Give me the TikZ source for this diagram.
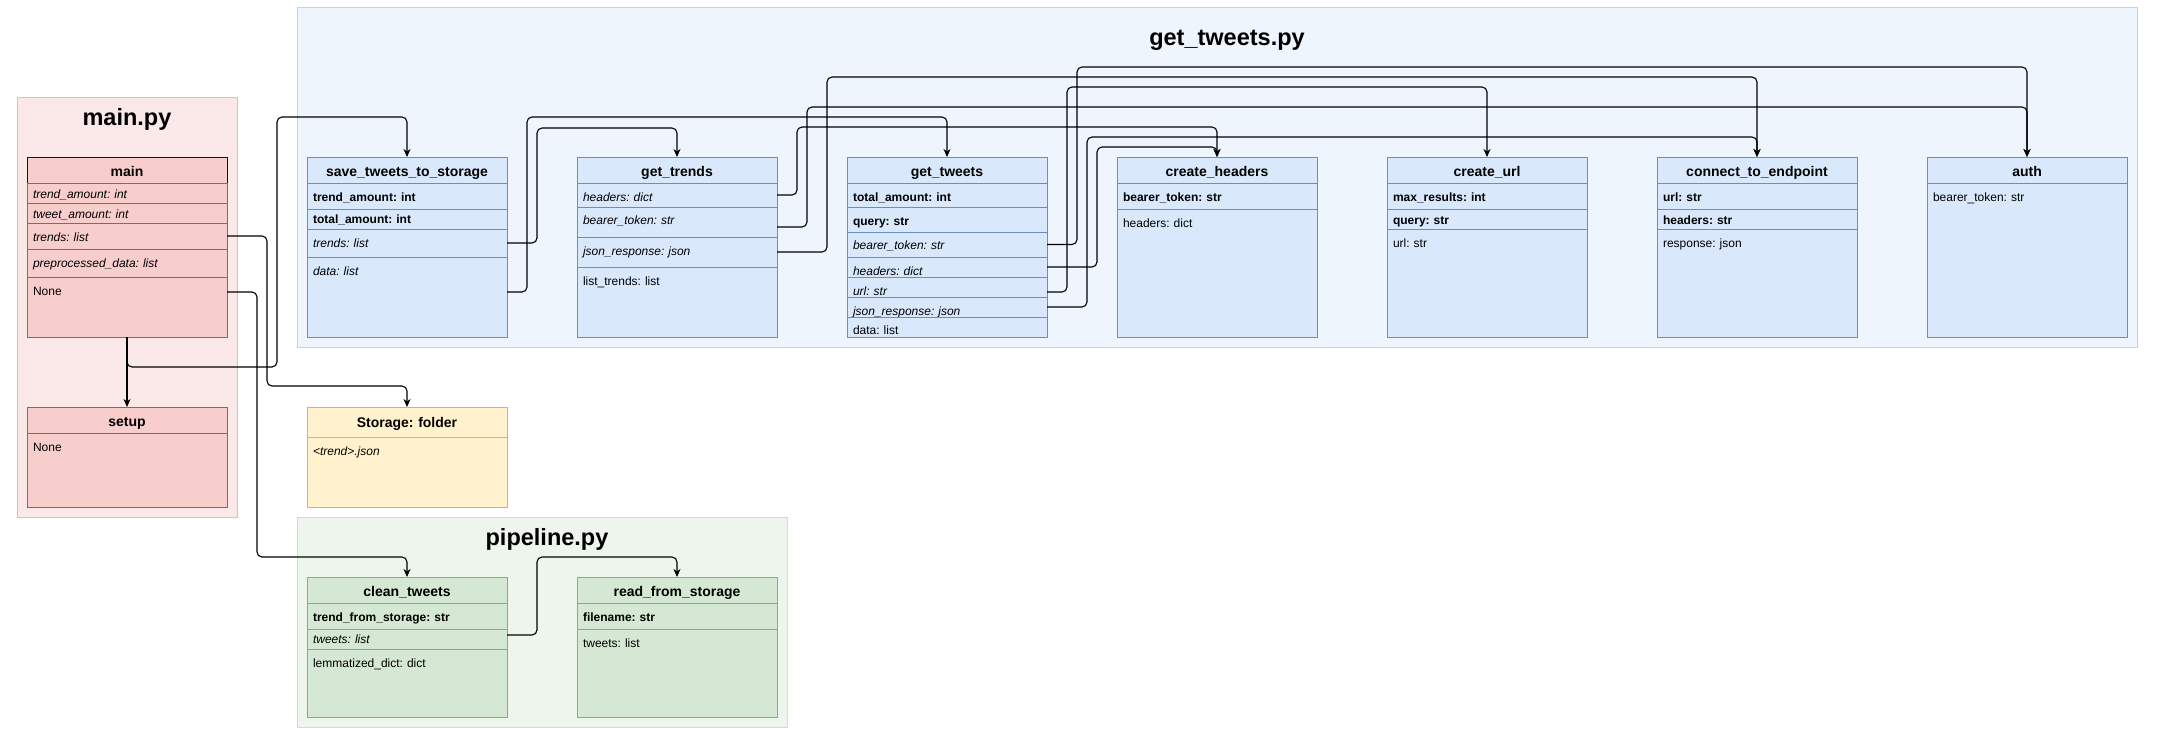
\documentclass[tikz,border=0pt]{standalone}
\usepackage{fontspec}
\setmainfont{Liberation Sans}
\usetikzlibrary{arrows.meta}
\frenchspacing

\definecolor{redfill}{HTML}{F8CECC}
\definecolor{redline}{HTML}{B85450}
\definecolor{bluefill}{HTML}{DAE8FC}
\definecolor{blueline}{HTML}{6C8EBF}
\definecolor{greenfill}{HTML}{D5E8D4}
\definecolor{greenline}{HTML}{82B366}
\definecolor{yelfill}{HTML}{FFF2CC}
\definecolor{yelline}{HTML}{D6B656}
\definecolor{redcfill}{HTML}{FBE9E9}
\definecolor{redcline}{HTML}{E3BBB9}
\definecolor{bluecfill}{HTML}{EFF5FD}
\definecolor{bluecline}{HTML}{C4D2E5}
\definecolor{greencfill}{HTML}{EEF5EC}
\definecolor{greencline}{HTML}{CDE1C2}
\definecolor{darkhdr}{HTML}{330808}

\newcommand{\urow}[7]{\node[urow,#6,text height=#4pt,text depth=#5pt] (#1) at (#2,#3) {#7};}
\newcommand{\uhdr}[7]{\node[uhdr,#6,text height=#4pt,text depth=#5pt] (#1) at (#2,#3) {#7};}

\tikzset{
  urow/.style={draw, rectangle, anchor=north west, text width=188pt, inner xsep=6pt,
    inner ysep=0pt, outer sep=0pt, align=left, line width=1pt,
    font=\frenchspacing\fontsize{12}{14}\selectfont},
  uhdr/.style={urow, align=center, font=\frenchspacing\bfseries\fontsize{14}{16}\selectfont},
  redbox/.style={fill=redfill, draw=redline},
  bluebox/.style={fill=bluefill, draw=blueline},
  greenbox/.style={fill=greenfill, draw=greenline},
  yelbox/.style={fill=yelfill, draw=yelline},
  cont/.style={line width=1pt},
  ctitle/.style={font=\bfseries\fontsize{23.5}{28}\selectfont, inner sep=0pt},
  conn/.style={draw=black, line width=1.1pt, rounded corners=5pt,
    -{Stealth[length=8pt,width=7pt,inset=2.5pt]}}
}

\begin{document}
\begin{tikzpicture}[x=1pt,y=-1pt]
\useasboundingbox (0,0) rectangle (2162,732);

% containers
\draw[cont, fill=redcfill, draw=redcline] (17,97) rectangle (237,517);
\draw[cont, fill=bluecfill, draw=bluecline] (297,7) rectangle (2137,347);
\draw[cont, fill=greencfill, draw=greencline] (297,517) rectangle (787,727);
\node[ctitle] (tmain) at (127,119) {main.py};
\node[ctitle] (tget) at (1227,40) {get\_tweets.py};
\node[ctitle] (tpipe) at (547,539) {pipeline.py};

% main
\uhdr{mainh}{27}{157}{19.5}{6.5}{fill=redfill, draw=darkhdr}{main}
\urow{main1}{27}{183}{15.3}{4.7}{redbox}{\itshape trend\_amount: int}
\urow{main2}{27}{203}{15.3}{4.7}{redbox}{\itshape tweet\_amount: int}
\urow{main3}{27}{223}{18.3}{7.7}{redbox}{\itshape trends: list}
\urow{main4}{27}{249}{18.3}{9.7}{redbox}{\itshape preprocessed\_data: list}
\urow{main5}{27}{277}{18.3}{41.7}{redbox}{None}
\draw[darkhdr, line width=1pt] (27,183) -- (27,157) -- (227,157) -- (227,183);

% setup
\uhdr{setuph}{27}{407}{19.5}{6.5}{redbox}{setup}
\urow{setup1}{27}{433}{18.3}{55.7}{redbox}{None}

% storage
\uhdr{storh}{307}{407}{20}{10}{yelbox}{Storage: folder}
\urow{stor1}{307}{437}{18.3}{51.7}{yelbox}{\itshape <trend>.json}

% save_tweets_to_storage
\uhdr{sth}{307}{157}{19.5}{6.5}{bluebox}{save\_tweets\_to\_storage}
\urow{st1}{307}{183}{18.3}{7.7}{bluebox}{\bfseries trend\_amount: int}
\urow{st2}{307}{209}{14.3}{5.7}{bluebox}{\bfseries total\_amount: int}
\urow{st3}{307}{229}{18.3}{9.7}{bluebox}{\itshape trends: list}
\urow{st4}{307}{257}{18.3}{61.7}{bluebox}{\itshape data: list}

% get_trends
\uhdr{gth}{577}{157}{19.5}{6.5}{bluebox}{get\_trends}
\urow{gt1}{577}{183}{18.3}{5.7}{bluebox}{\itshape headers: dict}
\urow{gt2}{577}{207}{17.3}{12.7}{bluebox}{\itshape bearer\_token: str}
\urow{gt3}{577}{237}{18.3}{11.7}{bluebox}{\itshape json\_response: json}
\urow{gt4}{577}{267}{18.3}{51.7}{bluebox}{list\_trends: list}

% get_tweets
\uhdr{gwh}{847}{157}{19.5}{6.5}{bluebox}{get\_tweets}
\urow{gw1}{847}{183}{18.3}{5.7}{bluebox}{\bfseries total\_amount: int}
\urow{gw2}{847}{207}{18.3}{6.7}{bluebox}{\bfseries query: str}
\urow{gw3}{847}{232}{17.3}{7.7}{bluebox}{\itshape bearer\_token: str}
\urow{gw4}{847}{257}{18.3}{1.7}{bluebox}{\itshape headers: dict}
\urow{gw5}{847}{277}{18.3}{1.7}{bluebox}{\itshape url: str}
\urow{gw6}{847}{297}{18.3}{1.7}{bluebox}{\itshape json\_response: json}
\urow{gw7}{847}{317}{17.3}{2.7}{bluebox}{data: list}

% create_headers
\uhdr{chh}{1117}{157}{19.5}{6.5}{bluebox}{create\_headers}
\urow{ch1}{1117}{183}{18.3}{7.7}{bluebox}{\bfseries bearer\_token: str}
\urow{ch2}{1117}{209}{18.3}{109.7}{bluebox}{headers: dict}

% create_url
\uhdr{cuh}{1387}{157}{19.5}{6.5}{bluebox}{create\_url}
\urow{cu1}{1387}{183}{18.3}{7.7}{bluebox}{\bfseries max\_results: int}
\urow{cu2}{1387}{209}{15.3}{4.7}{bluebox}{\bfseries query: str}
\urow{cu3}{1387}{229}{18.3}{89.7}{bluebox}{url: str}

% connect_to_endpoint
\uhdr{ceh}{1657}{157}{19.5}{6.5}{bluebox}{connect\_to\_endpoint}
\urow{ce1}{1657}{183}{18.3}{7.7}{bluebox}{\bfseries url: str}
\urow{ce2}{1657}{209}{15.3}{4.7}{bluebox}{\bfseries headers: str}
\urow{ce3}{1657}{229}{18.3}{89.7}{bluebox}{response: json}

% auth
\uhdr{auh}{1927}{157}{19.5}{6.5}{bluebox}{auth}
\urow{au1}{1927}{183}{18.3}{135.7}{bluebox}{bearer\_token: str}

% clean_tweets
\uhdr{cth}{307}{577}{19.5}{6.5}{greenbox}{clean\_tweets}
\urow{ct1}{307}{603}{18.3}{7.7}{greenbox}{\bfseries trend\_from\_storage: str}
\urow{ct2}{307}{629}{14.3}{5.7}{greenbox}{\itshape tweets: list}
\urow{ct3}{307}{649}{18.3}{49.7}{greenbox}{lemmatized\_dict: dict}

% read_from_storage
\uhdr{rfh}{577}{577}{19.5}{6.5}{greenbox}{read\_from\_storage}
\urow{rf1}{577}{603}{18.3}{7.7}{greenbox}{\bfseries filename: str}
\urow{rf2}{577}{629}{18.3}{69.7}{greenbox}{tweets: list}

% connectors
\draw[conn] (main5.south) -- (setuph.north);
\draw[conn] (main5.south) |- (277,367) -- (277,117) -| (sth.north);
\draw[conn] (main3.east) -| (267,386) -| (storh.north);
\draw[conn] ([yshift=-15pt]main5.north east) -| (257,557) -| (cth.north);
\draw[conn] ([yshift=-6pt]ct2.north east) -| (537,557) -| (rfh.north);

\draw[conn] (st3.east) -| (537,128) -| (gth.north);
\draw[conn] ([yshift=-35pt]st4.north east) -| (527,117) -| (gwh.north);
\draw[conn] (gt1.east) -| (797,127) -| (chh.north);
\draw[conn] ([yshift=-20pt]gt2.north east) -| (807,107) -| (auh.north);
\draw[conn] (gt3.east) -| (827,77) -| (ceh.north);
\draw[conn] (gw3.east) -| (1077,67) -| (auh.north);
\draw[conn] ([yshift=-15pt]gw5.north east) -| (1067,87) -| (cuh.north);
\draw[conn] (gw6.east) -| (1087,137) -| (ceh.north);
\draw[conn] (gw4.east) -| (1097,147) -| (chh.north);
\end{tikzpicture}
\end{document}
